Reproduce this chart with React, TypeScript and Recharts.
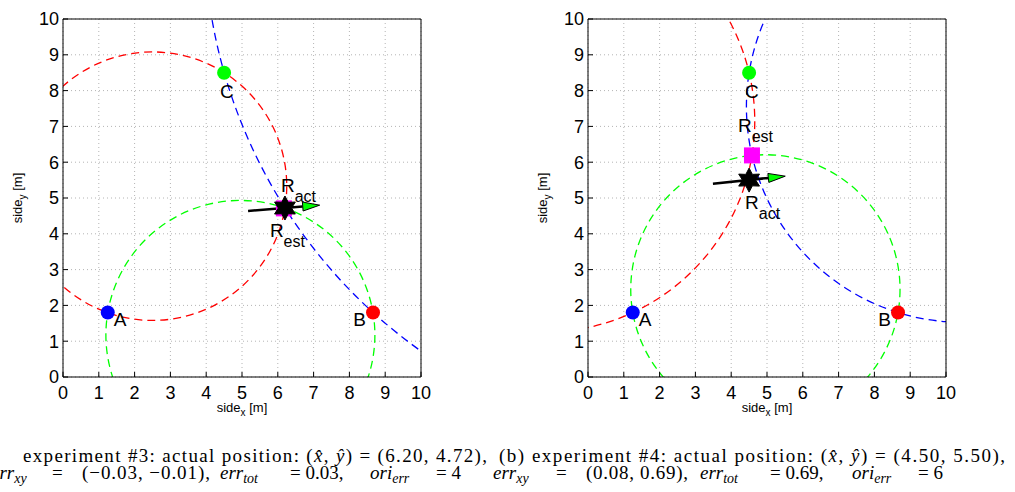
import {
  CartesianGrid,
  ReferenceArea,
  ReferenceLine,
  Scatter,
  ScatterChart,
  XAxis,
  YAxis,
} from 'recharts';

const TICKS = [0, 1, 2, 3, 4, 5, 6, 7, 8, 9, 10];

// beacons (same field for both experiments)
const BEACON_NAMES = ['A', 'B', 'C'];
const BEACON_X = [1.25, 8.66, 4.5];
const BEACON_Y = [1.8, 1.8, 8.5];

// experiment #3
const EXP3_ACT = [6.2, 4.72];
const EXP3_EST = [6.17, 4.71];
const EXP3_HEADING = [
  [5.17, 4.64],
  [7.17, 4.8],
];
// circles as [cx, cy, r]
const EXP3_RED = [2.5, 5.33, 3.75];
const EXP3_GREEN = [4.955, 1.175, 3.757];
const EXP3_BLUE = [18.34, 12.45, 14.39];

// experiment #4
const EXP4_ACT = [4.5, 5.5];
const EXP4_EST = [4.58, 6.19];
const EXP4_HEADING = [
  [3.49, 5.4],
  [5.51, 5.61],
];
const EXP4_RED = [-1.237, 7.145, 5.895];
const EXP4_GREEN = [4.955, 2.448, 3.761];
const EXP4_BLUE = [10.446, 7.55, 6.021];

const SANS = "'Liberation Sans', Arial, Helvetica, sans-serif";
const SERIF = "'Liberation Serif', 'Times New Roman', Times, serif";
const BEACON_COLORS: Record<string, string> = { A: '#0000ff', B: '#ff0000', C: '#00ff00' };
// label offsets in px: [dx, dy, anchor]
const BEACON_LABEL: Record<string, [number, number, string]> = {
  A: [6, 13, 'start'],
  B: [-7, 13, 'end'],
  C: [-4, 25, 'start'],
};

const tickStyle = { fill: '#000', fontSize: 18, fontFamily: SANS };

function Beacon(props: any) {
  const { cx, cy, payload } = props;
  const [dx, dy, anchor] = BEACON_LABEL[payload.name];
  return (
    <g>
      <circle cx={cx} cy={cy} r={7} fill={BEACON_COLORS[payload.name]} />
      <text x={cx + dx} y={cy + dy} textAnchor={anchor} fontSize={19} fontFamily={SANS} fill="#000">
        {payload.name}
      </text>
    </g>
  );
}

function RLabel({ x, y, sub }: { x: number; y: number; sub: string }) {
  return (
    <text x={x} y={y} fontSize={19} fontFamily={SANS} fill="#000">
      R
      <tspan dy={10} fontSize={16}>
        {sub}
      </tspan>
    </text>
  );
}

function starPoints(cx: number, cy: number, outer: number, inner: number) {
  const pts: string[] = [];
  for (let k = 0; k < 12; k++) {
    const a = -Math.PI / 2 + (k * Math.PI) / 6;
    const rr = k % 2 === 0 ? outer : inner;
    pts.push(`${cx + rr * Math.cos(a)},${cy + rr * Math.sin(a)}`);
  }
  return pts.join(' ');
}

function makeAct(off: [number, number]) {
  return function ActMarker(props: any) {
    const { cx, cy } = props;
    return (
      <g>
        <polygon points={starPoints(cx, cy, 12, 6.6)} fill="#000" stroke="#000" />
        <RLabel x={cx + off[0]} y={cy + off[1]} sub="act" />
      </g>
    );
  };
}

function makeEst(off: [number, number]) {
  return function EstMarker(props: any) {
    const { cx, cy } = props;
    return (
      <g>
        <rect x={cx - 8} y={cy - 8} width={16} height={16} fill="#ff00ff" />
        <RLabel x={cx + off[0]} y={cy + off[1]} sub="est" />
      </g>
    );
  };
}

function Arrow(props: any) {
  const { x1, y1, x2, y2 } = props;
  const a = Math.atan2(y2 - y1, x2 - x1);
  const len = 17;
  const hw = 4.5;
  const bx = x2 - len * Math.cos(a);
  const by = y2 - len * Math.sin(a);
  const nx = -Math.sin(a) * hw;
  const ny = Math.cos(a) * hw;
  return (
    <g>
      <line x1={x1} y1={y1} x2={bx} y2={by} stroke="#000" strokeWidth={2.5} />
      <polygon
        points={`${x2},${y2} ${bx + nx},${by + ny} ${bx - nx},${by - ny}`}
        fill="#00ff00"
        stroke="#000"
        strokeWidth={1}
      />
    </g>
  );
}

function circleShape(color: string) {
  return function CircleShape(props: any) {
    const { x, y, width, height, clipPath } = props;
    return (
      <ellipse
        cx={x + width / 2}
        cy={y + height / 2}
        rx={Math.abs(width) / 2}
        ry={Math.abs(height) / 2}
        clipPath={clipPath}
        fill="none"
        stroke={color}
        strokeWidth={1.3}
        strokeDasharray="8 5"
      />
    );
  };
}

function XLabel(props: any) {
  const vb = props.viewBox || { x: 63, y: 377, width: 358, height: 30 };
  return (
    <text x={vb.x + vb.width / 2} y={vb.y + 35} textAnchor="middle" fontSize={13} fontFamily={SANS} fill="#000">
      side
      <tspan dy={4} fontSize={10}>
        x
      </tspan>
      <tspan dy={-4}> [m]</tspan>
    </text>
  );
}

function YLabel(props: any) {
  const vb = props.viewBox || { x: 18, y: 19, width: 45, height: 358 };
  const x = vb.x + 4;
  const y = vb.y + vb.height / 2;
  return (
    <text
      x={x}
      y={y}
      transform={`rotate(-90, ${x}, ${y})`}
      textAnchor="middle"
      fontSize={13}
      fontFamily={SANS}
      fill="#000"
    >
      side
      <tspan dy={4} fontSize={10}>
        y
      </tspan>
      <tspan dy={-4}> [m]</tspan>
    </text>
  );
}

type PlotProps = {
  act: number[];
  est: number[];
  heading: number[][];
  red: number[];
  green: number[];
  blue: number[];
  actOff: [number, number];
  estOff: [number, number];
};

function Plot({ act, est, heading, red, green, blue, actOff, estOff }: PlotProps) {
  const beacons = BEACON_NAMES.map((name, i) => ({ name, x: BEACON_X[i], y: BEACON_Y[i] }));
  const circles: [number[], string][] = [
    [red, '#ff0000'],
    [green, '#00ff00'],
    [blue, '#0000ff'],
  ];
  return (
    <ScatterChart width={440} height={420} margin={{ top: 18, right: 18, bottom: 13, left: 18 }}>
      <CartesianGrid stroke="#b4b4b4" strokeDasharray="1 3" />
      <XAxis
        type="number"
        dataKey="x"
        domain={[0, 10]}
        ticks={TICKS}
        interval={0}
        allowDataOverflow
        height={30}
        stroke="#000"
        tickSize={-5}
        tickMargin={14}
        tick={tickStyle}
        label={{ content: XLabel }}
      />
      <XAxis
        xAxisId="top"
        orientation="top"
        type="number"
        domain={[0, 10]}
        ticks={TICKS}
        interval={0}
        allowDataOverflow
        height={1}
        stroke="#000"
        tickSize={-5}
        tick={false}
      />
      <YAxis
        type="number"
        dataKey="y"
        domain={[0, 10]}
        ticks={TICKS}
        interval={0}
        allowDataOverflow
        width={45}
        stroke="#000"
        tickSize={-5}
        tickMargin={9}
        tick={tickStyle}
        label={{ content: YLabel }}
      />
      <YAxis
        yAxisId="right"
        orientation="right"
        type="number"
        domain={[0, 10]}
        ticks={TICKS}
        interval={0}
        allowDataOverflow
        width={1}
        stroke="#000"
        tickSize={-5}
        tick={false}
      />
      {circles.map(([c, color]) => (
        <ReferenceArea
          key={color}
          x1={c[0] - c[2]}
          x2={c[0] + c[2]}
          y1={c[1] - c[2]}
          y2={c[1] + c[2]}
          ifOverflow="hidden"
          shape={circleShape(color)}
        />
      ))}
      <ReferenceLine
        segment={[
          { x: heading[0][0], y: heading[0][1] },
          { x: heading[1][0], y: heading[1][1] },
        ]}
        ifOverflow="visible"
        shape={Arrow}
      />
      <Scatter data={beacons} shape={Beacon} isAnimationActive={false} />
      <Scatter data={[{ x: est[0], y: est[1] }]} shape={makeEst(estOff)} isAnimationActive={false} />
      <Scatter data={[{ x: act[0], y: act[1] }]} shape={makeAct(actOff)} isAnimationActive={false} />
    </ScatterChart>
  );
}

const italic = { fontStyle: 'italic' as const };

// one piece of the caption, optionally fitted to a width
function Cap({ x, y, w, children }: { x: number; y: number; w?: number; children: any }) {
  return (
    <text
      x={x}
      y={y}
      textLength={w}
      lengthAdjust={w ? 'spacing' : undefined}
      fontSize={19}
      fontFamily={SERIF}
      fill="#000"
    >
      {children}
    </text>
  );
}

function MathSub({ base, sub }: { base: string; sub: string }) {
  return (
    <>
      <tspan style={italic}>{base}</tspan>
      <tspan dy={4} fontSize={14} style={italic}>
        {sub}
      </tspan>
    </>
  );
}

function Captions() {
  const y1 = 462;
  const y2 = 479;
  return (
    <svg width={1015} height={492} style={{ position: 'absolute', left: 0, top: 0, pointerEvents: 'none' }}>
      <Cap x={23} y={y1} w={464}>
        experiment #3: actual position: (<tspan style={italic}>x̂</tspan>, <tspan style={italic}>ŷ</tspan>) = (6.20,
        4.72),
      </Cap>
      <Cap x={499} y={y1} w={506}>
        (b) experiment #4: actual position: (<tspan style={italic}>x̂</tspan>, <tspan style={italic}>ŷ</tspan>) =
        (4.50, 5.50),
      </Cap>

      <Cap x={-9} y={y2}>
        <MathSub base="err" sub="xy" />
      </Cap>
      <Cap x={52} y={y2}>=</Cap>
      <Cap x={82} y={y2} w={128}>
        (−0.03, −0.01),
      </Cap>
      <Cap x={220} y={y2}>
        <MathSub base="err" sub="tot" />
      </Cap>
      <Cap x={290} y={y2}>= 0.03,</Cap>
      <Cap x={370} y={y2}>
        <MathSub base="ori" sub="err" />
      </Cap>
      <Cap x={436} y={y2}>= 4</Cap>

      <Cap x={493} y={y2}>
        <MathSub base="err" sub="xy" />
      </Cap>
      <Cap x={556} y={y2}>=</Cap>
      <Cap x={586} y={y2} w={102}>
        (0.08, 0.69),
      </Cap>
      <Cap x={700} y={y2}>
        <MathSub base="err" sub="tot" />
      </Cap>
      <Cap x={770} y={y2}>= 0.69,</Cap>
      <Cap x={852} y={y2}>
        <MathSub base="ori" sub="err" />
      </Cap>
      <Cap x={918} y={y2}>= 6</Cap>
    </svg>
  );
}

export default function App() {
  return (
    <div
      style={{
        position: 'absolute',
        left: 0,
        top: 0,
        width: 1015,
        height: 492,
        overflow: 'hidden',
        background: '#fff',
      }}
    >
      <div style={{ position: 'absolute', left: 0, top: 0 }}>
        <Plot
          act={EXP3_ACT}
          est={EXP3_EST}
          heading={EXP3_HEADING}
          red={EXP3_RED}
          green={EXP3_GREEN}
          blue={EXP3_BLUE}
          actOff={[-4, -16]}
          estOff={[-14, 29]}
        />
      </div>
      <div style={{ position: 'absolute', left: 525, top: 0 }}>
        <Plot
          act={EXP4_ACT}
          est={EXP4_EST}
          heading={EXP4_HEADING}
          red={EXP4_RED}
          green={EXP4_GREEN}
          blue={EXP4_BLUE}
          actOff={[-4, 29]}
          estOff={[-14, -23]}
        />
      </div>
      <Captions />
    </div>
  );
}
